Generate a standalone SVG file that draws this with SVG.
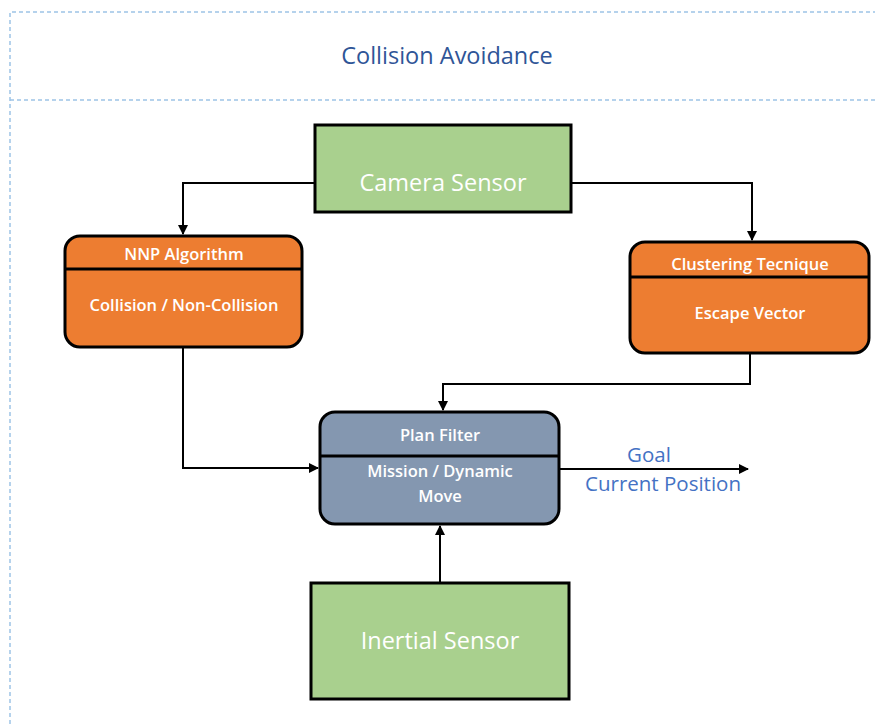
<svg xmlns="http://www.w3.org/2000/svg" width="875" height="724" viewBox="0 0 875 724">
<defs>
<style>
.frame{fill:none;stroke:#9dc3e6;stroke-width:1.5;stroke-dasharray:4 3}
.box{stroke:#000;stroke-width:3}
.green{fill:#a9d08e}
.orange{fill:#ed7d31}
.blue{fill:#8497b0}
.div{stroke:#000;stroke-width:3}
.wt{fill:#fff;font-family:"Open Sans","Liberation Sans",sans-serif;text-anchor:middle}
.sm{font-size:16.5px;font-weight:600}
.lg{font-size:23.5px}
.conn{fill:none;stroke:#000;stroke-width:2}
.lbl{fill:#4472c4;font-family:"Open Sans","Liberation Sans",sans-serif;text-anchor:middle;font-size:20.5px}
</style>
<marker id="arr" viewBox="0 0 10 10" refX="9" refY="5" markerWidth="5" markerHeight="5" orient="auto"><path d="M0,0 L10,5 L0,10 z" fill="#000"/></marker>
</defs>
<rect width="875" height="724" fill="#fff"/>
<g id="frame">
<path class="frame" d="M10,724 V12 H875"/>
<path class="frame" d="M10,100 H875"/>
<text x="447" y="64" fill="#2f5597" font-family="Open Sans, Liberation Sans, sans-serif" font-size="23.5" text-anchor="middle">Collision Avoidance</text>
</g>
<g id="connectors">
<path class="conn" d="M315,183 H183 V234" marker-end="url(#arr)"/>
<path class="conn" d="M571,183 H752 V240" marker-end="url(#arr)"/>
<path class="conn" d="M183,347 V468 H318" marker-end="url(#arr)"/>
<path class="conn" d="M750,353 V384 H443 V410" marker-end="url(#arr)"/>
<path class="conn" d="M440,583 V526" marker-end="url(#arr)"/>
<path class="conn" d="M559,469 H748" marker-end="url(#arr)"/>
<text class="lbl" x="649" y="462">Goal</text>
<text class="lbl" x="663" y="491">Current Position</text>
</g>
<g id="camera">
<rect class="box green" x="315" y="125" width="256" height="87"/>
<text class="wt lg" x="443" y="191">Camera Sensor</text>
</g>
<g id="nnp">
<rect class="box orange" x="65" y="236" width="237" height="111" rx="15"/>
<line class="div" x1="65" y1="269" x2="302" y2="269"/>
<text class="wt sm" x="184" y="260">NNP Algorithm</text>
<text class="wt sm" x="184" y="311">Collision / Non-Collision</text>
</g>
<g id="clustering">
<rect class="box orange" x="630" y="242" width="239" height="111" rx="15"/>
<line class="div" x1="630" y1="277" x2="869" y2="277"/>
<text class="wt sm" x="750" y="270">Clustering Tecnique</text>
<text class="wt sm" x="750" y="319">Escape Vector</text>
</g>
<g id="plan">
<rect class="box blue" x="320" y="412" width="239" height="112" rx="15"/>
<line class="div" x1="320" y1="456" x2="559" y2="456"/>
<text class="wt sm" x="440" y="441">Plan Filter</text>
<text class="wt sm" x="440" y="477">Mission / Dynamic</text>
<text class="wt sm" x="440" y="502">Move</text>
</g>
<g id="inertial">
<rect class="box green" x="311" y="583" width="258" height="116"/>
<text class="wt lg" x="440" y="649">Inertial Sensor</text>
</g>
</svg>
